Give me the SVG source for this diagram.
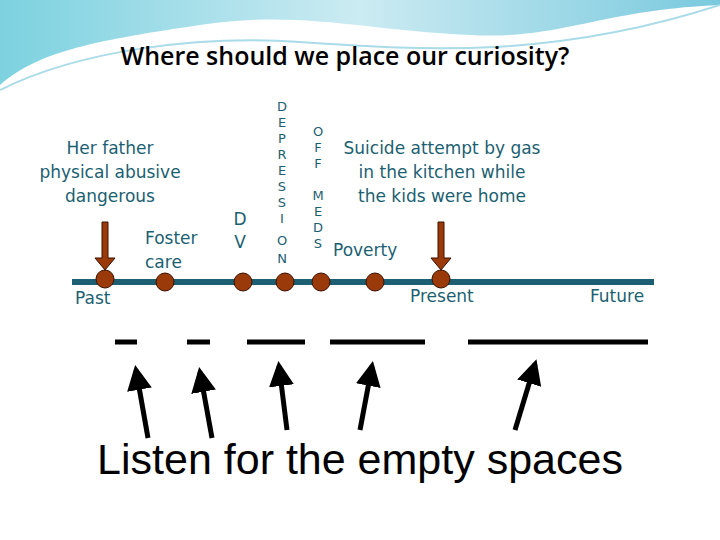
<svg xmlns="http://www.w3.org/2000/svg" width="720" height="540" viewBox="0 0 720 540">
<defs>
<linearGradient id="wave" x1="0" y1="0" x2="1" y2="0"><stop offset="0" stop-color="#5cc6d8"/><stop offset="0.5" stop-color="#bfe6ef"/><stop offset="1" stop-color="#58bcd6"/></linearGradient>
<marker id="bh" viewBox="0 0 10 10" refX="8" refY="5" markerWidth="5" markerHeight="5" orient="auto"><path d="M0,0 L10,5 L0,10 z" fill="#000"/></marker>
</defs>
<style>
.t{font-family:"DejaVu Sans",sans-serif;fill:#1c5f72;font-size:17px}
.v{font-family:"DejaVu Sans",sans-serif;fill:#1c5f72;font-size:13px;text-anchor:middle}
.dot{fill:#9a3a0a;stroke:#3a1000;stroke-width:1}
.ar{fill:#9a3a0a;stroke:#3a1000;stroke-width:1}
.bl{stroke:#000;stroke-width:5}
.ba{stroke:#000;stroke-width:5;marker-end:url(#bh)}
</style>
<rect width="720" height="540" fill="#fff"/>
<path d="M0,0 H720 V5 C600,10 560,40 470,35 C360,30 300,10 200,25 C100,40 40,50 0,85 Z" fill="url(#wave)" opacity="0.8"/>
<path d="M0,90 C80,50 200,35 300,42 C420,50 550,60 720,5" fill="none" stroke="#a9dbe8" stroke-width="2"/>
<text x="345" y="65" text-anchor="middle" style="font-family:'Open Sans','DejaVu Sans',sans-serif;font-size:25px;font-weight:600;fill:#000">Where should we place our curiosity?</text>
<g id="timeline"><rect x="72" y="279" width="582" height="6" fill="#1c5f72"/></g>
<g id="connectors">
<path class="ar" d="M102,222 H108 V258 H115 L105,270 L95,258 H102 Z"/>
<path class="ar" d="M438,222 H444 V258 H451 L441,270 L431,258 H438 Z"/>
<line class="ba" x1="148" y1="438" x2="136" y2="370"/>
<line class="ba" x1="212" y1="438" x2="200" y2="372"/>
<line class="ba" x1="287" y1="430" x2="279" y2="366"/>
<line class="ba" x1="360" y1="430" x2="372" y2="366"/>
<line class="ba" x1="515" y1="430" x2="535" y2="364"/>
</g>
<g id="dots">
<circle class="dot" cx="105" cy="279" r="9"/><circle class="dot" cx="165" cy="282" r="9"/>
<circle class="dot" cx="243" cy="282" r="9"/><circle class="dot" cx="285" cy="282" r="9"/>
<circle class="dot" cx="321" cy="282" r="9"/><circle class="dot" cx="375" cy="282" r="9"/>
<circle class="dot" cx="441" cy="279" r="9"/>
</g>
<g id="labels">
<text class="t" x="110" y="154" text-anchor="middle">Her father</text>
<text class="t" x="110" y="178" text-anchor="middle">physical abusive</text>
<text class="t" x="110" y="202" text-anchor="middle">dangerous</text>
<text class="t" x="145" y="244">Foster</text>
<text class="t" x="145" y="268">care</text>
<text class="t" x="240" y="225" text-anchor="middle">D</text>
<text class="t" x="240" y="248" text-anchor="middle">V</text>
<text class="v" x="282" y="111">D</text><text class="v" x="282" y="127">E</text><text class="v" x="282" y="143">P</text><text class="v" x="282" y="159">R</text><text class="v" x="282" y="175">E</text><text class="v" x="282" y="191">S</text><text class="v" x="282" y="207">S</text><text class="v" x="282" y="223">I</text><text class="v" x="282" y="245">O</text><text class="v" x="282" y="263">N</text>
<text class="v" x="318" y="136">O</text><text class="v" x="318" y="152">F</text><text class="v" x="318" y="168">F</text><text class="v" x="318" y="200">M</text><text class="v" x="318" y="216">E</text><text class="v" x="318" y="232">D</text><text class="v" x="318" y="248">S</text>
<text class="t" x="442" y="154" text-anchor="middle">Suicide attempt by gas</text>
<text class="t" x="442" y="178" text-anchor="middle">in the kitchen while</text>
<text class="t" x="442" y="202" text-anchor="middle">the kids were home</text>
<text class="t" x="333" y="256">Poverty</text>
<text class="t" x="75" y="304">Past</text>
<text class="t" x="410" y="302">Present</text>
<text class="t" x="590" y="302">Future</text>
</g>
<g id="blanks">
<line class="bl" x1="115" y1="342" x2="137" y2="342"/>
<line class="bl" x1="187" y1="342" x2="210" y2="342"/>
<line class="bl" x1="247" y1="342" x2="305" y2="342"/>
<line class="bl" x1="330" y1="342" x2="425" y2="342"/>
<line class="bl" x1="468" y1="342" x2="648" y2="342"/>
</g>
<text x="360" y="474" text-anchor="middle" style="font-family:'Liberation Sans',sans-serif;font-size:43px;fill:#000">Listen for the empty spaces</text>
</svg>
